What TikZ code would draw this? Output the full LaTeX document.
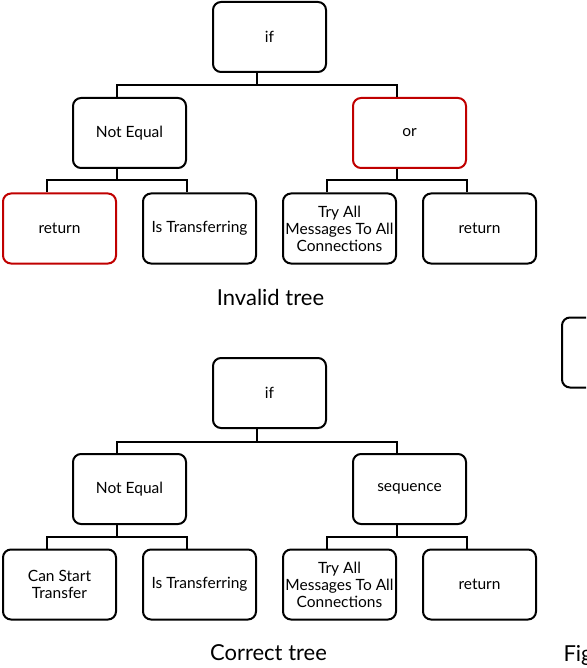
\documentclass[tikz,border=0pt]{standalone}
\usepackage{fontspec}
\setsansfont{Lato}
\usepackage{tikz}
\usetikzlibrary{positioning,calc}
\definecolor{badred}{RGB}{192,0,0}

\begin{document}
\begin{tikzpicture}[
  x=1pt, y=-1pt,
  font=\sffamily\fontsize{15.5}{17}\selectfont,
  box/.style={draw, rectangle, rounded corners=8pt, minimum width=113pt, minimum height=70pt, align=center, line width=2pt, inner sep=2pt},
  badbox/.style={box, draw=badred},
  link/.style={line width=2pt},
  caption/.style={font=\sffamily\fontsize{22}{26}\selectfont, anchor=base},
]
\useasboundingbox (0,0) rectangle (586,668);
\clip (0,0) rectangle (586,668);
% invalid tree
\node[box] (ifA) at (269.5,37) {if};
\node[box] (neqA) at (129.5,133) {Not Equal};
\node[badbox] (orA) at (409.5,133) {or};
\node[badbox] (retA) at (59.5,228.5) {return};
\node[box] (transA) at (199.5,228.5) {Is Transferring};
\node[box] (tryA) at (339.5,228.5) {Try All\\Messages To All\\Connections};
\node[box] (retB) at (479.5,228.5) {return};
\node[caption] (capA) at (270.5,305) {Invalid tree};
\draw[link] ([xshift=-12.5pt]ifA.south) -- ++(0,12.5) -| ([xshift=-12.5pt]neqA.north);
\draw[link] ([xshift=-12.5pt]ifA.south) -- ++(0,12.5) -| ([xshift=-12.5pt]orA.north);
\draw[link] ([xshift=-12.5pt]neqA.south) -- ++(0,11.5) -| ([xshift=-12.5pt]retA.north);
\draw[link] ([xshift=-12.5pt]neqA.south) -- ++(0,11.5) -| ([xshift=-12.5pt]transA.north);
\draw[link] ([xshift=-12.5pt]orA.south) -- ++(0,11.5) -| ([xshift=-12.5pt]tryA.north);
\draw[link] ([xshift=-12.5pt]orA.south) -- ++(0,11.5) -| ([xshift=-12.5pt]retB.north);
% correct tree
\node[box] (ifC) at (269.5,393) {if};
\node[box] (neqC) at (129.5,489) {Not Equal};
\node[box] (seqC) at (409.5,489) {sequence};
\node[box] (startC) at (59.5,584.5) {Can Start\\Transfer};
\node[box] (transC) at (199.5,584.5) {Is Transferring};
\node[box] (tryC) at (339.5,584.5) {Try All\\Messages To All\\Connections};
\node[box] (retC) at (479.5,584.5) {return};
\node[caption] (capC) at (268.5,660) {Correct tree};
\draw[link] ([xshift=-12.5pt]ifC.south) -- ++(0,12.5) -| ([xshift=-12.5pt]neqC.north);
\draw[link] ([xshift=-12.5pt]ifC.south) -- ++(0,12.5) -| ([xshift=-12.5pt]seqC.north);
\draw[link] ([xshift=-12.5pt]neqC.south) -- ++(0,11.5) -| ([xshift=-12.5pt]startC.north);
\draw[link] ([xshift=-12.5pt]neqC.south) -- ++(0,11.5) -| ([xshift=-12.5pt]transC.north);
\draw[link] ([xshift=-12.5pt]seqC.south) -- ++(0,11.5) -| ([xshift=-12.5pt]tryC.north);
\draw[link] ([xshift=-12.5pt]seqC.south) -- ++(0,11.5) -| ([xshift=-12.5pt]retC.north);
% next figure, cut off
\node[box] (nextbox) at (618.5,352.5) {};
\node[caption, anchor=base west] (capFig) at (560,661) {Fig};
\end{tikzpicture}
\end{document}
